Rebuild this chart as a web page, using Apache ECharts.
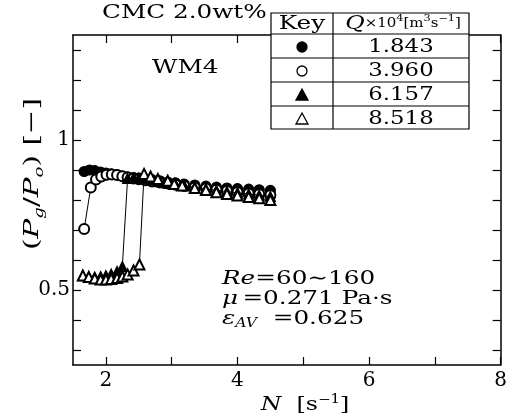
<!DOCTYPE html>
<html>
<head>
<meta charset="utf-8">
<script src="https://cdn.jsdelivr.net/npm/echarts@6/dist/echarts.min.js"></script>
<style>
  html, body { margin: 0; background: #fff; }
  #chart { width: 510px; height: 419px; }
</style>
</head>
<body>
<div id="chart"></div>
<script>
// Q = 1.843e-4 m3/s (filled circle)
const nQ1 = [1.67, 1.75, 1.83, 1.92, 2.00, 2.08, 2.17, 2.25, 2.33, 2.42, 2.50, 2.58, 2.70, 2.82, 2.94, 3.06, 3.19, 3.35, 3.52, 3.68, 3.84, 4.00, 4.17, 4.33, 4.50];
const pQ1 = [0.895, 0.900, 0.898, 0.893, 0.890, 0.887, 0.884, 0.880, 0.877, 0.875, 0.873, 0.872, 0.868, 0.864, 0.860, 0.857, 0.853, 0.850, 0.846, 0.843, 0.840, 0.838, 0.836, 0.834, 0.832];
// Q = 3.960e-4 (open circle)
const nQ2 = [1.67, 1.77, 1.85, 1.93, 2.01, 2.09, 2.17, 2.25, 2.33, 2.42, 2.50, 2.60, 2.70, 2.82, 2.94, 3.06, 3.19, 3.35, 3.52, 3.68, 3.84, 4.00, 4.17, 4.33, 4.50];
const pQ2 = [0.703, 0.842, 0.868, 0.878, 0.884, 0.885, 0.883, 0.879, 0.875, 0.872, 0.869, 0.866, 0.862, 0.858, 0.855, 0.851, 0.847, 0.842, 0.838, 0.834, 0.830, 0.826, 0.822, 0.819, 0.816];
// Q = 6.157e-4 (filled triangle)
const nQ3 = [1.65, 1.74, 1.83, 1.92, 2.00, 2.08, 2.17, 2.25, 2.33, 2.42, 2.50, 2.58, 2.70, 2.82, 2.94, 3.06, 3.19, 3.35, 3.52, 3.68, 3.84, 4.00, 4.17, 4.33, 4.50];
const pQ3 = [0.548, 0.545, 0.543, 0.545, 0.548, 0.553, 0.562, 0.578, 0.872, 0.874, 0.873, 0.871, 0.866, 0.861, 0.856, 0.852, 0.848, 0.842, 0.837, 0.832, 0.828, 0.824, 0.820, 0.816, 0.812];
// Q = 8.518e-4 (open triangle)
const nQ4 = [1.65, 1.74, 1.83, 1.92, 2.00, 2.08, 2.17, 2.25, 2.33, 2.42, 2.51, 2.58, 2.68, 2.79, 2.94, 3.04, 3.16, 3.35, 3.52, 3.68, 3.84, 4.00, 4.17, 4.33, 4.50];
const pQ4 = [0.548, 0.543, 0.538, 0.535, 0.535, 0.537, 0.540, 0.545, 0.552, 0.565, 0.585, 0.887, 0.878, 0.870, 0.864, 0.853, 0.848, 0.840, 0.833, 0.826, 0.820, 0.815, 0.810, 0.806, 0.800];

const qLabels = ['1.843', '3.960', '6.157', '8.518'];
const symbols = ['circle', 'emptyCircle', 'triangle', 'emptyTriangle'];

const xTicks = [2, 3, 4, 5, 6, 7, 8];
const xTickLabels = [2, 4, 6, 8];
const yTicks = [0.3, 0.4, 0.5, 0.6, 0.7, 0.8, 0.9, 1.0, 1.1, 1.2, 1.3];
const yTickLabels = [0.5, 1];

const serif = 'DejaVu Serif';
const stretch = 1.3; // the scanned lettering is wide

function pairs(n, p) {
  return n.map((v, i) => [v, p[i]]);
}

const seriesData = [pairs(nQ1, pQ1), pairs(nQ2, pQ2), pairs(nQ3, pQ3), pairs(nQ4, pQ4)];

const chart = echarts.init(document.getElementById('chart'), null, { renderer: 'canvas' });

const axisLine = { show: true, lineStyle: { color: '#000', width: 1.5 } };
const tickStyle = { color: '#000', width: 1.2 };

function label(x, y, text, opts) {
  return Object.assign({
    type: 'text', z: 7, x: x, y: y, scaleX: stretch,
    style: { text: text, fontFamily: serif, fontSize: 19, fill: '#000', align: 'left', verticalAlign: 'middle' }
  }, opts || {});
}

// key-table marker for row i, same look as the series symbol
function keyMark(i) {
  const cx = 302, cy = 47 + 24 * i;
  const fill = i % 2 ? '#fff' : '#000';
  const style = { fill: fill, stroke: '#000', lineWidth: 1.3 };
  if (symbols[i].toLowerCase().indexOf('circle') >= 0) {
    return { type: 'circle', z: 8, shape: { cx: cx, cy: cy, r: 5 }, style: style };
  }
  return { type: 'polygon', z: 8, shape: { points: [[cx, cy - 6], [cx + 6, cy + 5], [cx - 6, cy + 5]] }, style: style };
}

const option = {
  backgroundColor: '#fff',
  animation: false,
  grid: { left: 73, right: 9, top: 35, bottom: 54 },
  xAxis: [{
    type: 'value', min: 1.5, max: 8,
    axisLine: axisLine,
    axisTick: { inside: true, length: 8, customValues: xTicks, lineStyle: tickStyle },
    axisLabel: { customValues: xTickLabels, color: '#000', fontFamily: serif, fontSize: 20, margin: 6 },
    splitLine: { show: false }
  }, {
    type: 'value', min: 1.5, max: 8, position: 'top',
    axisLine: axisLine,
    axisTick: { inside: true, length: 8, customValues: xTicks, lineStyle: tickStyle },
    axisLabel: { show: false },
    splitLine: { show: false }
  }],
  yAxis: [{
    type: 'value', min: 0.25, max: 1.35,
    axisLine: axisLine,
    axisTick: { inside: true, length: 8, customValues: yTicks, lineStyle: tickStyle },
    axisLabel: { customValues: yTickLabels, color: '#000', fontFamily: serif, fontSize: 20, margin: 3 },
    splitLine: { show: false }
  }, {
    type: 'value', min: 0.25, max: 1.35, position: 'right',
    axisLine: axisLine,
    axisTick: { inside: true, length: 8, customValues: yTicks, lineStyle: tickStyle },
    axisLabel: { show: false },
    splitLine: { show: false }
  }],
  series: seriesData.map((d, i) => ({
    name: qLabels[i],
    type: 'line',
    data: d,
    symbol: symbols[i],
    symbolSize: 10,
    showAllSymbol: true,
    color: '#000',
    lineStyle: { color: '#000', width: 1 },
    itemStyle: { color: '#000', borderColor: '#000', borderWidth: 1.2 },
    z: 2 + i
  })),
  graphic: [
    // key table
    { type: 'rect', z: 6, shape: { x: 271, y: 13, width: 198, height: 116 }, style: { fill: '#fff', stroke: '#000', lineWidth: 1.2 } },
    { type: 'line', z: 7, shape: { x1: 333, y1: 13, x2: 333, y2: 129 }, style: { stroke: '#000', lineWidth: 1.2 } },
    { type: 'line', z: 7, shape: { x1: 271, y1: 34, x2: 469, y2: 34 }, style: { stroke: '#000', lineWidth: 1.2 } },
    { type: 'line', z: 7, shape: { x1: 271, y1: 58, x2: 469, y2: 58 }, style: { stroke: '#000', lineWidth: 1.2 } },
    { type: 'line', z: 7, shape: { x1: 271, y1: 82, x2: 469, y2: 82 }, style: { stroke: '#000', lineWidth: 1.2 } },
    { type: 'line', z: 7, shape: { x1: 271, y1: 106, x2: 469, y2: 106 }, style: { stroke: '#000', lineWidth: 1.2 } },
    label(302, 24, 'Key', { style: { text: 'Key', fontFamily: serif, fontSize: 19, fill: '#000', align: 'center', verticalAlign: 'middle' } }),
    {
      type: 'text', z: 7, x: 403, y: 24, scaleX: 1.25,
      style: {
        text: '{q|Q}{s|×10}{p|4}{s|[m}{p|3}{s|s}{p|−1}{s|]}',
        align: 'center', verticalAlign: 'middle', fill: '#000',
        rich: {
          q: { fontFamily: serif, fontStyle: 'italic', fontSize: 19, lineHeight: 20 },
          s: { fontFamily: serif, fontSize: 12, lineHeight: 20 },
          p: { fontFamily: serif, fontSize: 9, lineHeight: 13, verticalAlign: 'top' }
        }
      }
    },
    ...qLabels.map((q, i) => keyMark(i)),
    ...qLabels.map((q, i) => ({
      type: 'text', z: 7, x: 401, y: 47 + 24 * i, scaleX: 1.2,
      style: { text: q, fontFamily: serif, fontSize: 19, fill: '#000', align: 'center', verticalAlign: 'middle' }
    })),
    // titles
    label(102, 13, 'CMC 2.0wt%'),
    label(152, 68, 'WM4'),
    // conditions
    label(222, 279, '', {
      style: {
        text: '{i|Re}{n|=60∼160}', align: 'left', verticalAlign: 'middle', fill: '#000',
        rich: { i: { fontFamily: serif, fontStyle: 'italic', fontSize: 19 }, n: { fontFamily: serif, fontSize: 19 } }
      }
    }),
    label(222, 299, '', {
      style: {
        text: '{i|μ} {n|=0.271 Pa·s}', align: 'left', verticalAlign: 'middle', fill: '#000',
        rich: { i: { fontFamily: serif, fontStyle: 'italic', fontSize: 19 }, n: { fontFamily: serif, fontSize: 19 } }
      }
    }),
    label(222, 319, '', {
      style: {
        text: '{i|ε}{b|AV}{n|  =0.625}', align: 'left', verticalAlign: 'middle', fill: '#000',
        rich: {
          i: { fontFamily: serif, fontStyle: 'italic', fontSize: 19, lineHeight: 22 },
          b: { fontFamily: serif, fontStyle: 'italic', fontSize: 12, lineHeight: 12, verticalAlign: 'bottom' },
          n: { fontFamily: serif, fontSize: 19, lineHeight: 22 }
        }
      }
    }),
    // axis names
    label(305, 405, '', {
      scaleX: 1.25,
      style: {
        text: '{i|N}{n|  [s}{p|−1}{n|]}', align: 'center', verticalAlign: 'middle', fill: '#000',
        rich: {
          i: { fontFamily: serif, fontStyle: 'italic', fontSize: 19, lineHeight: 22 },
          n: { fontFamily: serif, fontSize: 19, lineHeight: 22 },
          p: { fontFamily: serif, fontSize: 12, lineHeight: 12, verticalAlign: 'top' }
        }
      }
    }),
    label(33, 174, '', {
      rotation: Math.PI / 2, scaleX: 1.4,
      style: {
        text: '{n|(}{i|P}{b|g}{n|/}{i|P}{b|o}{n|) [−]}', align: 'center', verticalAlign: 'middle', fill: '#000',
        rich: {
          i: { fontFamily: serif, fontStyle: 'italic', fontSize: 21, lineHeight: 26 },
          n: { fontFamily: serif, fontSize: 21, lineHeight: 26 },
          b: { fontFamily: serif, fontStyle: 'italic', fontSize: 13, lineHeight: 13, verticalAlign: 'bottom' }
        }
      }
    })
  ]
};

chart.setOption(option);
</script>
</body>
</html>
